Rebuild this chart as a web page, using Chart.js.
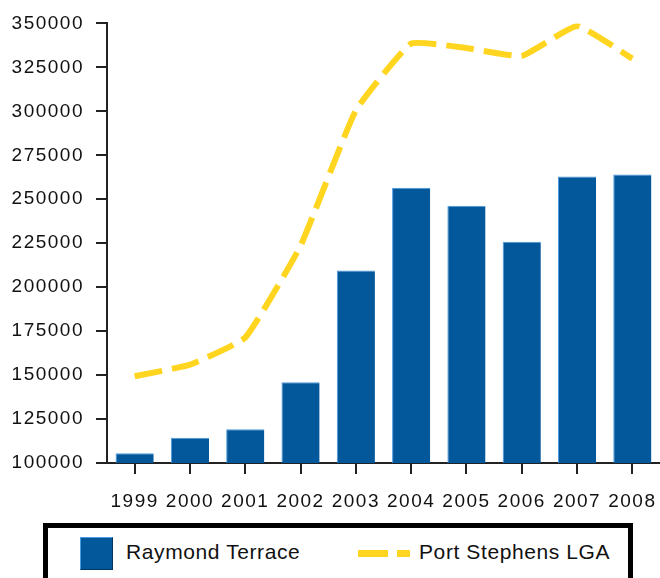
<!DOCTYPE html>
<html lang="en">
<head>
    <meta charset="UTF-8">
    <title>Raymond Terrace vs Port Stephens LGA</title>
    <script src="https://cdn.jsdelivr.net/npm/chart.js"></script>
    <style>
        body {
            margin: 0;
            background: #fff;
            overflow: hidden;
            font-family: "Liberation Sans", Arial, sans-serif;
        }
        .wrap {
            position: relative;
            width: 660px;
            height: 578px;
        }
        .legend {
            position: absolute;
            left: 43px;
            top: 523px;
            width: 580px;
            height: 70px;
            border: 5px solid #000;
            background: #fff;
        }
        .legend span {
            position: absolute;
        }
        .swatch-bar {
            left: 32px;
            top: 9px;
            width: 31px;
            height: 31px;
            background: #03579b;
            border-top: 1px solid #4a9ae0;
            border-left: 1px solid #4a9ae0;
            border-bottom: 1px solid #02365f;
            border-right: 1px solid #02365f;
        }
        .swatch-line {
            left: 310px;
            top: 22px;
            width: 52px;
            height: 7px;
            background: linear-gradient(to right, #ffd520 0 30px, transparent 30px 39px, #ffd520 39px 52px);
        }
        .legend .label {
            top: 12px;
            font-size: 21px;
            letter-spacing: 0.6px;
            color: #111;
        }
    </style>
</head>
<body>
    <div class="wrap">
        <canvas id="chart" width="660" height="578"></canvas>
        <div class="legend" id="legend"></div>
    </div>

    <script>
        // data
        const years = ['1999', '2000', '2001', '2002', '2003', '2004', '2005', '2006', '2007', '2008'];
        const raymondTerrace = [105500, 114300, 119200, 145900, 209500, 256500, 246300, 225800, 262900, 264000];
        const portStephens = [149300, 155900, 171300, 223500, 300500, 338500, 336000, 331500, 348500, 330000];
        const seriesNames = ['Raymond Terrace', 'Port Stephens LGA'];

        const barBlue = '#03579b';
        const lineYellow = '#ffd520';
        const axisColor = '#222';

        // wider tracking on the tick labels, like the original
        const letterSpacing = {
            id: 'letterSpacing',
            beforeUpdate(chart) { chart.ctx.letterSpacing = '1.5px'; },
            beforeDraw(chart) { chart.ctx.letterSpacing = '1.5px'; }
        };

        const tickFont = { family: '"Liberation Sans", Arial, sans-serif', size: 19 };

        new Chart(document.getElementById('chart').getContext('2d'), {
            type: 'bar',
            data: {
                labels: years,
                datasets: [
                    {
                        type: 'line',
                        label: seriesNames[1],
                        data: portStephens,
                        borderColor: lineYellow,
                        borderWidth: 6,
                        borderDash: [28, 10],
                        pointRadius: 0,
                        tension: 0.12,
                        fill: false,
                        order: 0
                    },
                    {
                        type: 'bar',
                        label: seriesNames[0],
                        data: raymondTerrace,
                        backgroundColor: barBlue,
                        borderColor: '#4a9ae0',
                        borderWidth: { top: 1, left: 1, right: 0, bottom: 0 },
                        borderSkipped: false,
                        barPercentage: 0.69,
                        categoryPercentage: 1,
                        order: 1
                    }
                ]
            },
            options: {
                responsive: false,
                animation: false,
                layout: {
                    padding: { top: 20, left: 0, right: 0, bottom: 65 }
                },
                plugins: {
                    legend: { display: false },
                    tooltip: { enabled: false }
                },
                scales: {
                    x: {
                        offset: true,
                        grid: {
                            offset: false,
                            drawOnChartArea: false,
                            color: axisColor,
                            lineWidth: 2,
                            tickLength: 11
                        },
                        border: { display: true, color: axisColor, width: 2 },
                        ticks: {
                            color: '#111',
                            font: tickFont,
                            padding: 16,
                            maxRotation: 0,
                            autoSkip: false
                        },
                        afterFit(scale) {
                            scale.height = 50;
                            scale.paddingLeft = 0;
                            scale.paddingRight = 0;
                        }
                    },
                    y: {
                        min: 100000,
                        max: 350000,
                        grid: {
                            drawOnChartArea: false,
                            color: axisColor,
                            lineWidth: 2,
                            tickLength: 11
                        },
                        border: { display: true, color: axisColor, width: 2 },
                        ticks: {
                            stepSize: 25000,
                            color: '#111',
                            font: tickFont,
                            padding: 12,
                            callback: v => String(v)
                        },
                        afterFit(scale) { scale.width = 107; }
                    }
                }
            },
            plugins: [letterSpacing]
        });

        // legend box under the chart
        const legend = document.getElementById('legend');
        legend.innerHTML =
            '<span class="swatch-bar"></span>' +
            '<span class="label" style="left:78px">' + seriesNames[0] + '</span>' +
            '<span class="swatch-line"></span>' +
            '<span class="label" style="left:371px">' + seriesNames[1] + '</span>';
    </script>
</body>
</html>
